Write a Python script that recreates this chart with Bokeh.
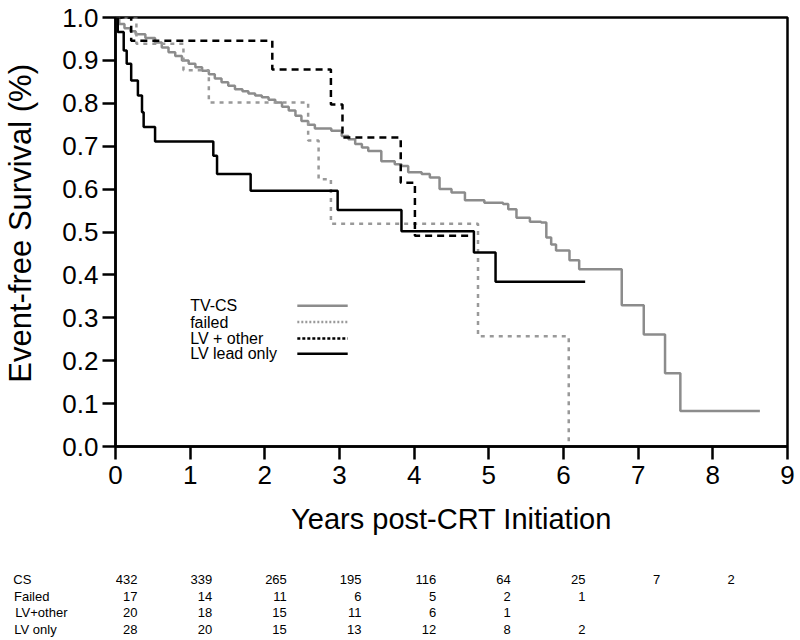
from bokeh.plotting import figure
from bokeh.layouts import column
from bokeh.models import Range1d, ColumnDataSource, FixedTicker, PrintfTickFormatter
from bokeh.embed import file_html
from bokeh.resources import INLINE
from bokeh.core.properties import value

# ---------------- data ----------------
cs_time = [0, 0.05, 0.12, 0.20, 0.27, 0.40, 0.53, 0.62, 0.71, 0.80, 0.89, 0.98,
           1.07, 1.16, 1.25, 1.33, 1.42, 1.51, 1.60, 1.70, 1.78, 1.87, 1.96, 2.05,
           2.14, 2.23, 2.32, 2.41, 2.49, 2.58, 2.67, 2.89, 3.03, 3.12, 3.21, 3.30,
           3.385, 3.56, 3.74, 3.83, 3.92, 4.10, 4.21, 4.34, 4.50, 4.68, 4.94, 5.19,
           5.26, 5.37, 5.55, 5.70, 5.77, 5.835, 5.90, 6.08, 6.21, 6.78, 7.075,
           7.36, 7.565]
cs_surv = [1.0, 0.985, 0.975, 0.968, 0.961, 0.952, 0.942, 0.930, 0.919, 0.910,
           0.900, 0.892, 0.884, 0.876, 0.868, 0.858, 0.849, 0.841, 0.833, 0.828,
           0.823, 0.818, 0.814, 0.808, 0.802, 0.792, 0.783, 0.771, 0.759, 0.750,
           0.741, 0.736, 0.724, 0.716, 0.705, 0.697, 0.689, 0.665, 0.658, 0.654,
           0.639, 0.635, 0.627, 0.600, 0.592, 0.574, 0.568, 0.565, 0.553, 0.533,
           0.524, 0.522, 0.487, 0.471, 0.457, 0.434, 0.413, 0.329, 0.261, 0.171,
           0.083]
cs_end = 8.63

failed_time = [0, 0.28, 0.91, 1.25, 2.58, 2.72, 2.885, 4.855, 6.07]
failed_surv = [1.0, 0.939, 0.877, 0.802, 0.713, 0.623, 0.519, 0.257, 0.0]
failed_end = 6.07

lvother_time = [0, 0.21, 2.10, 2.885, 3.04, 3.82, 4.01]
lvother_surv = [1.0, 0.946, 0.879, 0.797, 0.720, 0.615, 0.491]
lvother_end = 4.79

lvonly_time = [0, 0.03, 0.11, 0.15, 0.21, 0.30, 0.355, 0.377, 0.53, 1.31, 1.36,
               1.81, 2.975, 3.83, 4.80, 5.09]
lvonly_surv = [1.0, 0.966, 0.923, 0.892, 0.853, 0.818, 0.779, 0.745, 0.711,
               0.678, 0.635, 0.596, 0.551, 0.502, 0.452, 0.384]
lvonly_end = 6.29

legend_labels = ["TV-CS", "failed", "LV + other", "LV lead only"]

x_ticks = [0, 1, 2, 3, 4, 5, 6, 7, 8, 9]
y_ticks = [0.0, 0.1, 0.2, 0.3, 0.4, 0.5, 0.6, 0.7, 0.8, 0.9, 1.0]

risk_years = [0, 1, 2, 3, 4, 5, 6, 7, 8]
risk_rows = ["CS", "Failed", "LV+other", "LV only"]
risk_cs = [432, 339, 265, 195, 116, 64, 25, 7, 2]
risk_failed = [17, 14, 11, 6, 5, 2, 1]
risk_lvother = [20, 18, 15, 11, 6, 1]
risk_lvonly = [28, 20, 15, 13, 12, 8, 2]

# ---------------- layout / styles ----------------
FONT = "Liberation Sans"
GRAY = "#8c8c8c"
GRAY2 = "#999999"
W, H = 800, 640
H1 = 556                       # main plot height, table below
FRAME_L, FRAME_R, FRAME_T, FRAME_H = 113, 13, 17, 429
ROW0_PX, ROW_STEP = 579, 16.5  # table row centres (page pixels)
ROW_PAD = [10, 5, 0, 3]        # nbsp padding so row names read left-aligned

p = figure(width=W, height=H1, output_backend="svg", toolbar_location=None,
           x_range=Range1d(0, 9), y_range=Range1d(0, 1.0),
           min_border_left=FRAME_L, min_border_right=FRAME_R,
           min_border_top=FRAME_T, min_border_bottom=H1 - FRAME_T - FRAME_H)
p.grid.visible = False
p.outline_line_color = "black"
p.outline_line_width = 2.5
p.background_fill_color = "white"
p.border_fill_color = "white"

for ax in (p.xaxis[0], p.yaxis[0]):
    ax.axis_line_width = 2.5
    ax.axis_line_color = "black"
    ax.major_tick_line_width = 2.5
    ax.major_tick_line_color = "black"
    ax.major_tick_out = 13
    ax.major_tick_in = 0
    ax.minor_tick_line_color = None
    ax.major_label_text_font = FONT
    ax.major_label_text_font_size = "26px"
    ax.major_label_text_color = "black"
    ax.axis_label_text_font = FONT
    ax.axis_label_text_font_style = "normal"
    ax.axis_label_text_color = "black"

p.xaxis.axis_label_text_font_size = "29px"
p.yaxis.axis_label_text_font_size = "31px"
p.xaxis.ticker = FixedTicker(ticks=x_ticks)
p.yaxis.ticker = FixedTicker(ticks=y_ticks)
p.yaxis.formatter = PrintfTickFormatter(format="%.1f")
p.xaxis.axis_label = "Years post-CRT Initiation"
p.yaxis.axis_label = "\u00a0\u00a0Event-free Survival (%)"
p.xaxis.major_label_standoff = 6
p.yaxis.major_label_standoff = 4
p.xaxis.axis_label_standoff = 16
p.yaxis.axis_label_standoff = 21


def curve(t, s, end):
    return list(t) + [end], list(s) + [s[-1]]


series = [
    (cs_time, cs_surv, cs_end, GRAY, None, 2.5),
    (failed_time, failed_surv, failed_end, GRAY2, "4 5", 2.5),
    (lvother_time, lvother_surv, lvother_end, "black", "7 5", 2.5),
    (lvonly_time, lvonly_surv, lvonly_end, "black", None, 2.5),
]
for t, s, end, col, dash, lw in series:
    xs, ys = curve(t, s, end)
    kw = dict(line_color=col, line_width=lw, mode="after")
    if dash:
        kw["line_dash"] = dash
    p.step(xs, ys, **kw)

# legend drawn inside the plot
leg_y = [0.328, 0.290, 0.252, 0.216]
leg_src = ColumnDataSource(dict(x=[1.0] * 4, y=leg_y, t=legend_labels))
p.text(x="x", y="y", text="t", source=leg_src, text_font=value(FONT),
       text_font_size="16px", text_baseline="middle", text_align="left",
       text_color="black")
leg_styles = [(GRAY, None), (GRAY2, "2 2"), ("black", "3 2"), ("black", None)]
for yy, (col, dash) in zip(leg_y, leg_styles):
    kw = dict(line_color=col, line_width=2.5)
    if dash:
        kw["line_dash"] = dash
    p.segment(x0=[2.435], y0=[yy], x1=[3.11], y1=[yy], **kw)

# ---------------- number at risk table (second figure, same x scale) ----------------
H2 = H - H1
top_rows = -(ROW0_PX - H1) / ROW_STEP
bottom_rows = (H - ROW0_PX) / ROW_STEP
q = figure(width=W, height=H2, output_backend="svg", toolbar_location=None,
           x_range=p.x_range, y_range=Range1d(bottom_rows, top_rows),
           min_border_left=FRAME_L, min_border_right=FRAME_R,
           min_border_top=0, min_border_bottom=0)
q.grid.visible = False
q.outline_line_color = None
q.background_fill_color = "white"
q.border_fill_color = "white"
q.xaxis.visible = False
ya = q.yaxis[0]
ya.ticker = FixedTicker(ticks=list(range(len(risk_rows))))
ya.major_label_overrides = {i: name + "\u00a0" * ROW_PAD[i]
                            for i, name in enumerate(risk_rows)}
ya.axis_line_color = None
ya.major_tick_line_color = None
ya.minor_tick_line_color = None
ya.major_tick_out = 0
ya.major_tick_in = 0
ya.major_label_standoff = 48
ya.major_label_text_font = FONT
ya.major_label_text_font_size = "13px"
ya.major_label_text_color = "black"

nx, ny, nt = [], [], []
for r, vals in enumerate([risk_cs, risk_failed, risk_lvother, risk_lvonly]):
    for yr, v in zip(risk_years, vals):
        nx.append(yr)
        ny.append(r)
        nt.append(str(v))
num_src = ColumnDataSource(dict(x=nx, y=ny, t=nt))
q.text(x="x", y="y", text="t", source=num_src, text_font=value(FONT),
       text_font_size="13px", text_baseline="middle", text_align="right",
       x_offset=22, text_color="black")

layout = column(p, q, spacing=0)
open("out.html", "w").write(file_html(layout, INLINE))
